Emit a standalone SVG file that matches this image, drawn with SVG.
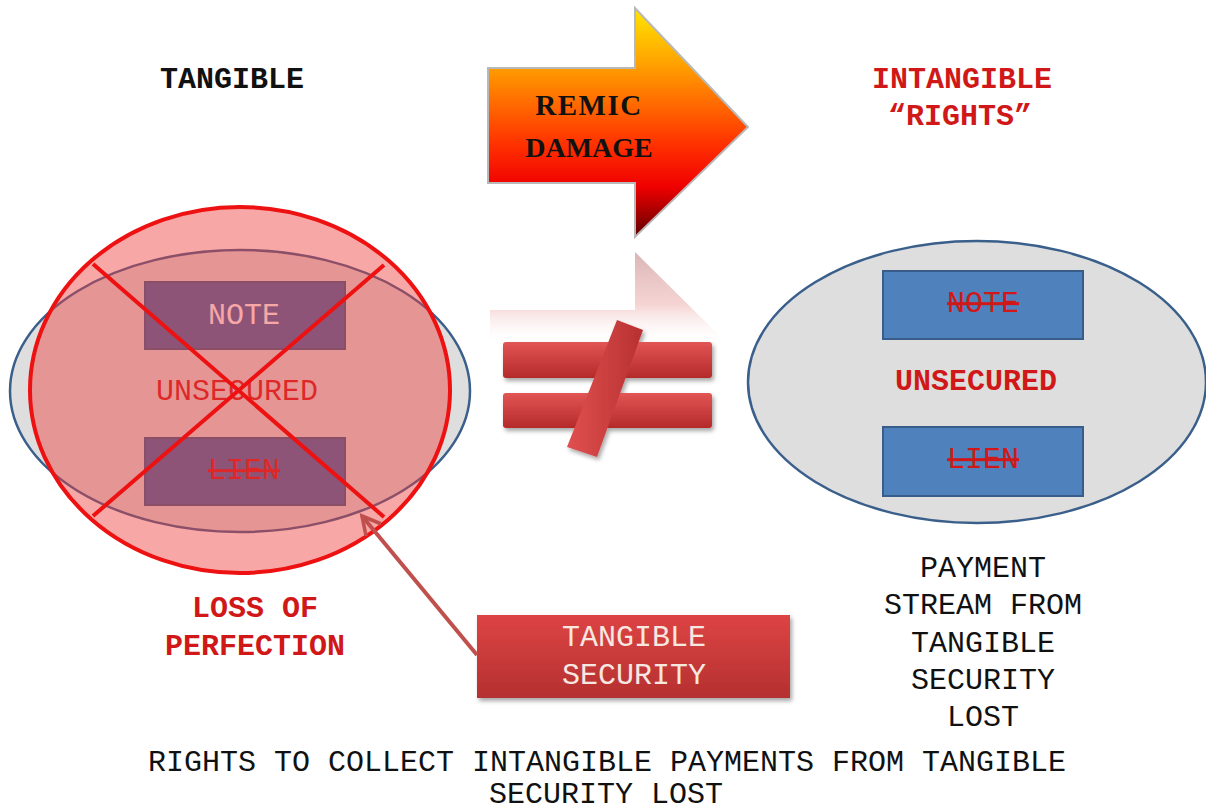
<svg xmlns="http://www.w3.org/2000/svg" width="1206" height="812" viewBox="0 0 1206 812">
<defs>
<style>
.t{font-family:"Liberation Mono","DejaVu Sans Mono",monospace;font-size:30px;text-anchor:middle}
.blk{fill:#111}
.red{fill:#d01818}
.b{font-weight:bold}
.strike{text-decoration:line-through}
.box{fill:#4f81bd;stroke:#385d8a;stroke-width:2}
.ell{fill:#dedede;stroke:#3a5f8b;stroke-width:2.5}
.xl{stroke:#ee1111;stroke-width:4;fill:none}
</style>
<linearGradient id="arrowG" gradientUnits="userSpaceOnUse" x1="0" y1="8" x2="0" y2="237">
<stop offset="0" stop-color="#ffe600"/>
<stop offset="0.25" stop-color="#ffa000"/>
<stop offset="0.6" stop-color="#ff3000"/>
<stop offset="0.78" stop-color="#f00000"/>
<stop offset="1" stop-color="#600000"/>
</linearGradient>
<linearGradient id="reflG" gradientUnits="userSpaceOnUse" x1="0" y1="245" x2="0" y2="345">
<stop offset="0" stop-color="#a05050" stop-opacity="0.45"/>
<stop offset="0.6" stop-color="#e07070" stop-opacity="0.3"/>
<stop offset="1" stop-color="#ffffff" stop-opacity="0"/>
</linearGradient>
<linearGradient id="barG" x1="0" y1="0" x2="0" y2="1">
<stop offset="0" stop-color="#e25555"/>
<stop offset="1" stop-color="#b52a2a"/>
</linearGradient>
<linearGradient id="slashG" x1="0" y1="0" x2="1" y2="0">
<stop offset="0" stop-color="#e05050"/>
<stop offset="1" stop-color="#b83030"/>
</linearGradient>
<linearGradient id="tsG" x1="0" y1="0" x2="0" y2="1">
<stop offset="0" stop-color="#dd4444"/>
<stop offset="1" stop-color="#b53030"/>
</linearGradient>
<filter id="sh" x="-10%" y="-10%" width="130%" height="140%">
<feDropShadow dx="2" dy="3" stdDeviation="2" flood-color="#000" flood-opacity="0.35"/>
</filter>
<marker id="vhead" viewBox="0 0 20 20" refX="17" refY="10" markerWidth="6" markerHeight="6" orient="auto" markerUnits="strokeWidth">
<path d="M2,2 L17,10 L2,18" fill="none" stroke="#c0504d" stroke-width="3"/>
</marker>
</defs>
<rect width="1206" height="812" fill="#ffffff"/>

<g id="label-tangible"><text class="t blk b" x="232" y="88">TANGIBLE</text></g>
<g id="label-intangible"><text class="t red b" x="962" y="88">INTANGIBLE</text><text class="t red b" x="960" y="125">“RIGHTS”</text></g>

<g id="remic-arrow">
<polygon points="488,68 635,68 635,8 748,127 635,237 635,183 488,183" fill="url(#arrowG)" stroke="#b8b8b8" stroke-width="2"/>
<polygon points="490,310 635,310 635,252 750,366 750,345 490,345" fill="url(#reflG)"/>
<text x="589" y="115" font-family="Liberation Serif,serif" font-weight="bold" font-size="29" text-anchor="middle" fill="#111" letter-spacing="1.5">REMIC</text>
<text x="589" y="157" font-family="Liberation Serif,serif" font-weight="bold" font-size="28" text-anchor="middle" fill="#111">DAMAGE</text>
</g>

<g id="not-equal" filter="url(#sh)">
<rect x="503" y="342" width="209" height="36" rx="3" fill="url(#barG)"/>
<rect x="503" y="393" width="209" height="35" rx="3" fill="url(#barG)"/>
<polygon points="617,320 643,330 597,457 567,447" fill="url(#slashG)"/>
</g>

<g id="left-node">
<ellipse class="ell" cx="240" cy="391" rx="230" ry="141"/>
<rect x="145" y="282" width="200" height="67" fill="#3d68a8" stroke="#385d8a" stroke-width="2"/>
<rect x="145" y="438" width="200" height="67" fill="#3d68a8" stroke="#385d8a" stroke-width="2"/>
<text class="t" x="244" y="324" fill="#ffffff">NOTE</text>
<text class="t red" x="237" y="400">UNSECURED</text>
<text class="t red strike" x="244" y="479">LIEN</text>
<ellipse cx="240" cy="390" rx="210" ry="183" fill="#f03c3c" fill-opacity="0.45" stroke="#ee1111" stroke-width="4"/>
<line class="xl" x1="93" y1="264" x2="384" y2="517"/>
<line class="xl" x1="384" y1="265" x2="93" y2="516"/>
</g>

<g id="right-node">
<ellipse class="ell" cx="977" cy="382" rx="229" ry="141"/>
<rect class="box" x="883" y="271" width="200" height="68"/>
<rect class="box" x="883" y="427" width="200" height="69"/>
<text class="t red strike" x="983" y="312">NOTE</text>
<text class="t red b" x="976" y="390">UNSECURED</text>
<text class="t red strike" x="983" y="468">LIEN</text>
</g>

<g id="label-loss"><text class="t red b" x="255" y="617">LOSS OF</text><text class="t red b" x="255" y="655">PERFECTION</text></g>

<g id="label-payment">
<text class="t blk" x="983" y="577">PAYMENT</text>
<text class="t blk" x="983" y="614">STREAM FROM</text>
<text class="t blk" x="983" y="652">TANGIBLE</text>
<text class="t blk" x="983" y="689">SECURITY</text>
<text class="t blk" x="983" y="726">LOST</text>
</g>

<g id="tangible-security">
<rect x="477" y="615" width="313" height="83" fill="url(#tsG)" filter="url(#sh)"/>
<text class="t" x="634" y="646" fill="#f6e8e0">TANGIBLE</text>
<text class="t" x="634" y="684" fill="#f6e8e0">SECURITY</text>
</g>

<g id="connectors">
<line x1="477" y1="655" x2="362" y2="516" stroke="#c0504d" stroke-width="4" marker-end="url(#vhead)"/>
</g>

<g id="label-bottom">
<text class="t blk" x="607" y="771">RIGHTS TO COLLECT INTANGIBLE PAYMENTS FROM TANGIBLE</text>
<text class="t blk" x="606" y="803">SECURITY LOST</text>
</g>
</svg>
